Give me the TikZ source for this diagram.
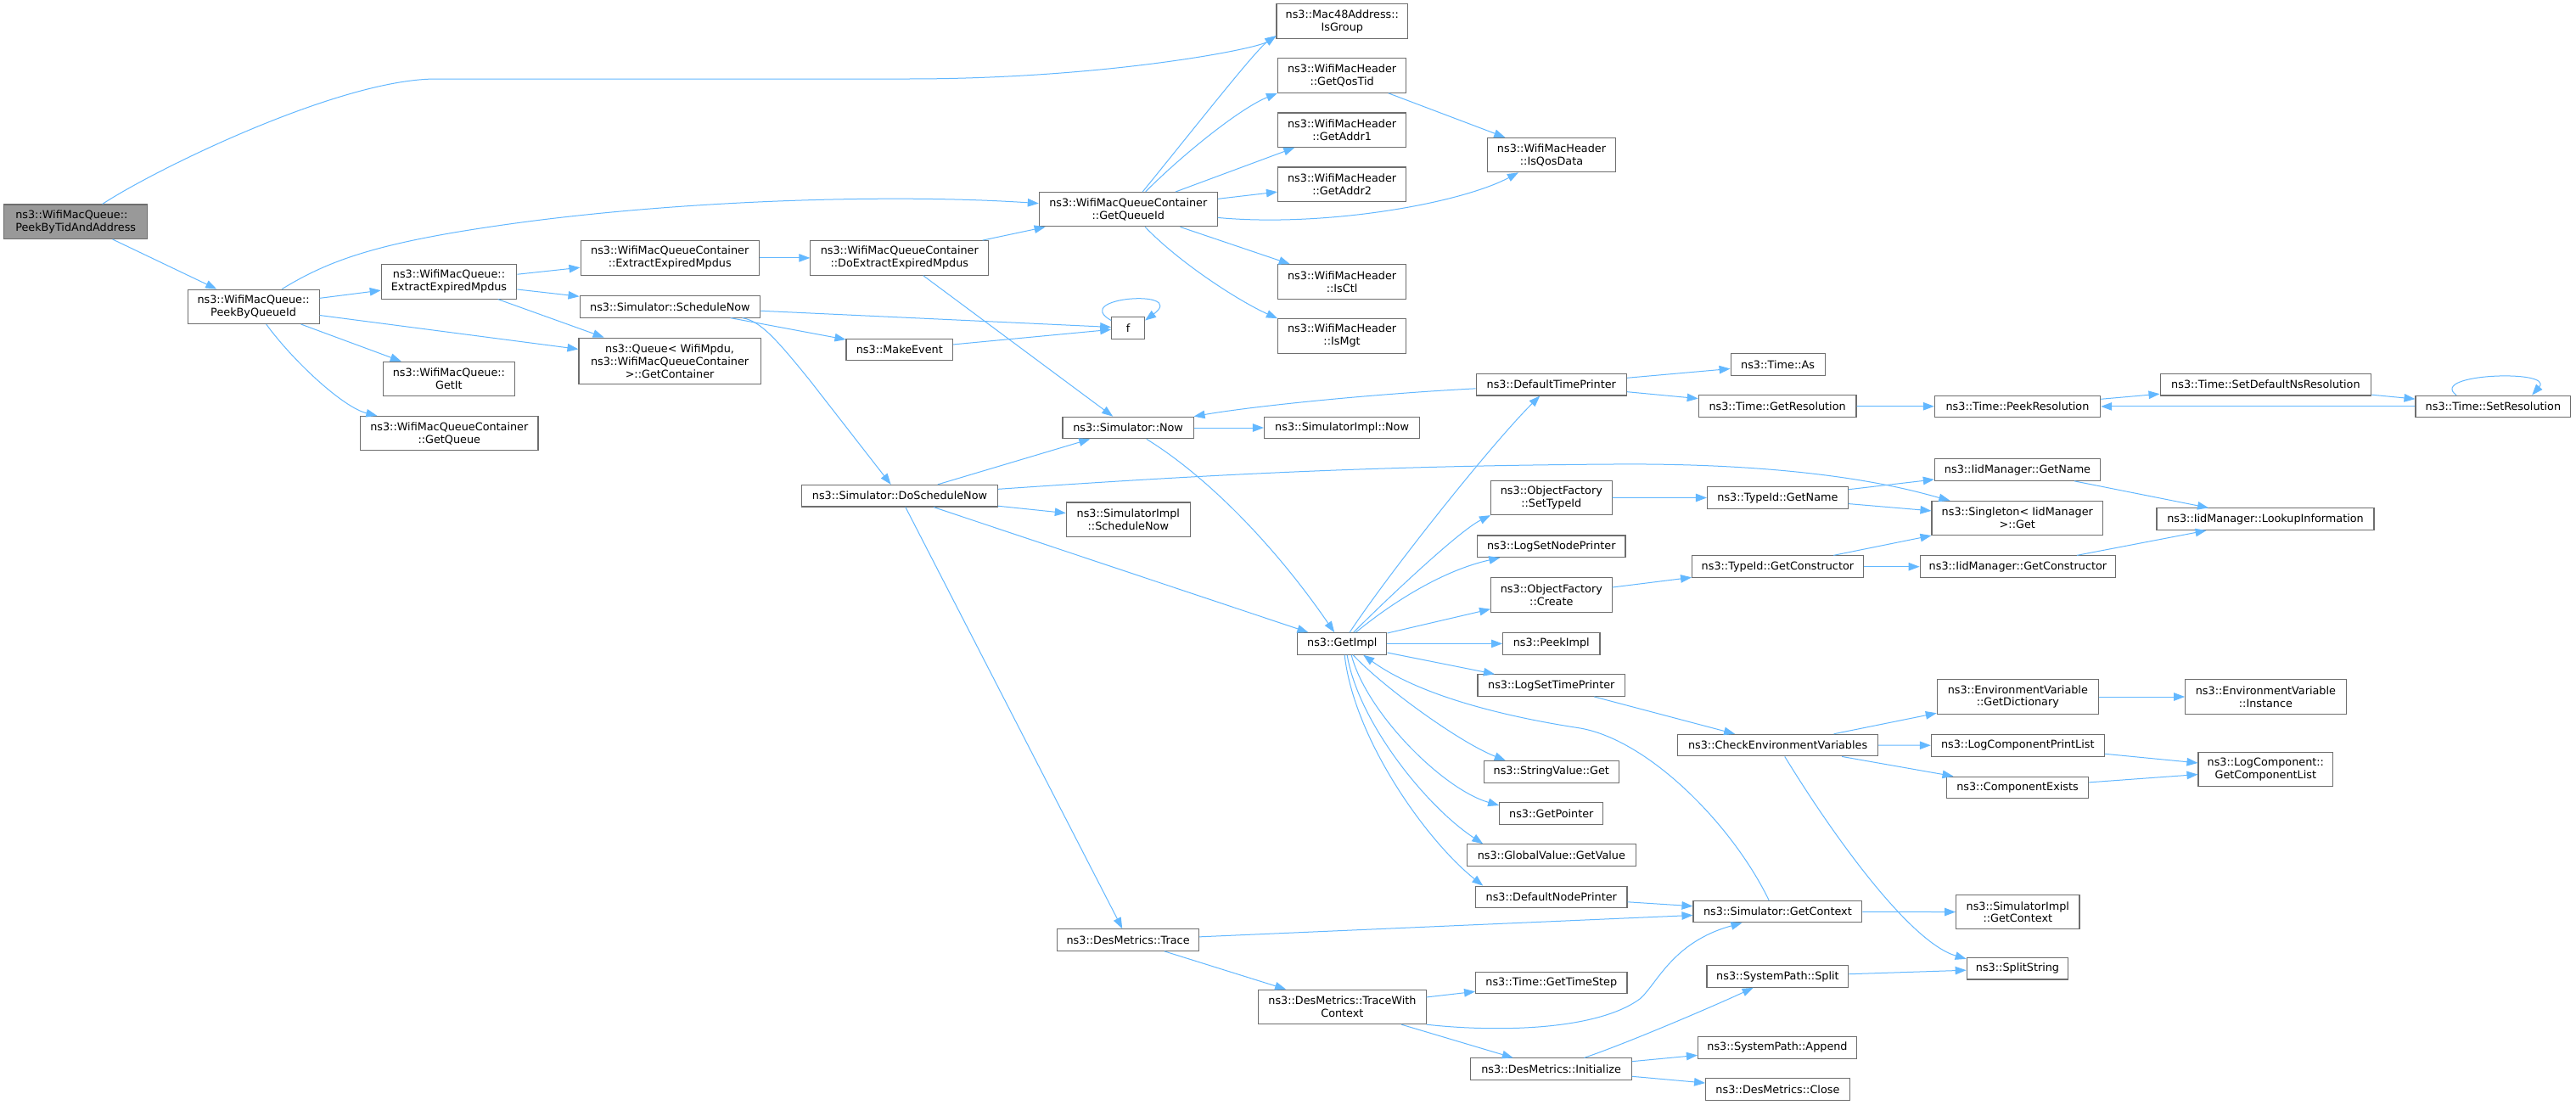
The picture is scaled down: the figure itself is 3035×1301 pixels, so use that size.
\documentclass[tikz,border=0pt]{standalone}
\usepackage{fontspec}
\setmainfont{DejaVu Sans}
\usetikzlibrary{arrows.meta,calc}
\definecolor{edgeblue}{HTML}{63B8FF}
\definecolor{nodeborder}{HTML}{6E6E6E}
\definecolor{rootfill}{HTML}{999999}
\newcommand\nodefont{\fontsize{12.8pt}{14.9pt}\selectfont}
\tikzset{
  nd/.style={draw=nodeborder, line width=1.1pt, rectangle, inner sep=0pt, align=center, font=\nodefont, text=black},
  ndone/.style={nd, minimum height=25.6pt},
  ndtwo/.style={nd, minimum height=40.4pt},
  ndthree/.style={nd, minimum height=54.7pt},
  edge/.style={draw=edgeblue, line width=1pt, -{Triangle[length=13pt,width=9.5pt]}},
}
\begin{document}
\begin{tikzpicture}[x=1pt,y=-1pt]
\useasboundingbox (0,0) rectangle (3035,1301);
\fill[white] (0,0) rectangle (3035,1301);
% nodes
\node[ndtwo, fill=rootfill, align=left, minimum width=168.7pt] (root) at (89.2,261.2) {ns3::WifiMacQueue::\\PeekByTidAndAddress};
\node[ndtwo, minimum width=155pt] (pbq) at (298.6,361.3) {ns3::WifiMacQueue::\\PeekByQueueId};
\node[ndtwo, minimum width=159.5pt] (wmqeem) at (529,331.9) {ns3::WifiMacQueue::\\ExtractExpiredMpdus};
\node[ndtwo, minimum width=155.1pt] (getit) at (528.9,446.5) {ns3::WifiMacQueue::\\GetIt};
\node[ndtwo, minimum width=209.4pt] (getqueue) at (529.3,510.6) {ns3::WifiMacQueueContainer\\::GetQueue};
\node[ndtwo, minimum width=210.3pt] (ceem) at (789.2,303.9) {ns3::WifiMacQueueContainer\\::ExtractExpiredMpdus};
\node[ndone, minimum width=212.7pt] (schednow) at (789.4,361.3) {ns3::Simulator::ScheduleNow};
\node[ndthree, minimum width=214.2pt] (getcont) at (789.1,425.4) {ns3::Queue< WifiMpdu,\\ns3::WifiMacQueueContainer\\>::GetContainer};
\node[ndtwo, minimum width=209.9pt] (doeem) at (1059.8,303.9) {ns3::WifiMacQueueContainer\\::DoExtractExpiredMpdus};
\node[ndtwo, minimum width=209.9pt] (getqid) at (1329.3,246.7) {ns3::WifiMacQueueContainer\\::GetQueueId};
\node[ndone, minimum width=38.8pt] (f) at (1329.1,386.4) {f};
\node[ndone, minimum width=125.6pt] (makeevent) at (1059.8,411.9) {ns3::MakeEvent};
\node[ndone, minimum width=154.2pt] (simnow) at (1329.1,504) {ns3::Simulator::Now};
\node[ndone, minimum width=183.2pt] (simimplnow) at (1581.1,504) {ns3::SimulatorImpl::Now};
\node[ndone, minimum width=230.7pt] (doschednow) at (1060,584.2) {ns3::Simulator::DoScheduleNow};
\node[ndtwo, minimum width=145.9pt] (simimplsched) at (1329.3,612.2) {ns3::SimulatorImpl\\::ScheduleNow};
\node[ndtwo, minimum width=154.6pt] (isgroup) at (1581.3,25.1) {ns3::Mac48Address::\\IsGroup};
\node[ndtwo, minimum width=151.2pt] (getqostid) at (1581.1,89.1) {ns3::WifiMacHeader\\::GetQosTid};
\node[ndtwo, minimum width=151.2pt] (getaddr1) at (1581.1,153.2) {ns3::WifiMacHeader\\::GetAddr1};
\node[ndtwo, minimum width=151.2pt] (getaddr2) at (1581.1,217.2) {ns3::WifiMacHeader\\::GetAddr2};
\node[ndtwo, minimum width=151.2pt] (isctl) at (1581.1,331.9) {ns3::WifiMacHeader\\::IsCtl};
\node[ndtwo, minimum width=151.2pt] (ismgt) at (1581.1,395.9) {ns3::WifiMacHeader\\::IsMgt};
\node[ndtwo, minimum width=150.7pt] (isqosdata) at (1828,182.6) {ns3::WifiMacHeader\\::IsQosData};
\node[ndone, minimum width=177.5pt] (dtp) at (1827.8,453.2) {ns3::DefaultTimePrinter};
\node[ndone, minimum width=111pt] (timeas) at (2094.6,429.5) {ns3::Time::As};
\node[ndone, minimum width=185.7pt] (getres) at (2094.1,478.5) {ns3::Time::GetResolution};
\node[ndone, minimum width=195.3pt] (peekres) at (2377,478.9) {ns3::Time::PeekResolution};
\node[ndone, minimum width=248.7pt] (setdefns) at (2669.4,453.2) {ns3::Time::SetDefaultNsResolution};
\node[ndone, minimum width=182.8pt] (setres) at (2937.4,478.9) {ns3::Time::SetResolution};
\node[ndtwo, minimum width=142.5pt] (settypeid) at (1827.8,586.4) {ns3::ObjectFactory\\::SetTypeId};
\node[ndone, minimum width=165.8pt] (tgetname) at (2094.4,586.5) {ns3::TypeId::GetName};
\node[ndone, minimum width=174.4pt] (lognodeprinter) at (1827.8,643.8) {ns3::LogSetNodePrinter};
\node[ndone, minimum width=195.3pt] (iidgetname) at (2377,553.5) {ns3::IidManager::GetName};
\node[ndtwo, minimum width=201.6pt] (singleton) at (2376.8,610.5) {ns3::Singleton< IidManager\\>::Get};
\node[ndone, minimum width=256pt] (lookup) at (2669,611.7) {ns3::IidManager::LookupInformation};
\node[ndone, minimum width=201.6pt] (tgetctor) at (2094.4,667.7) {ns3::TypeId::GetConstructor};
\node[ndone, minimum width=230.5pt] (iidgetctor) at (2377.4,667.7) {ns3::IidManager::GetConstructor};
\node[ndtwo, minimum width=142.5pt] (create) at (1827.8,701) {ns3::ObjectFactory\\::Create};
\node[ndone, minimum width=105.2pt] (getimpl) at (1581.3,758.4) {ns3::GetImpl};
\node[ndone, minimum width=114.4pt] (peekimpl) at (1827.8,758.4) {ns3::PeekImpl};
\node[ndone, minimum width=173.6pt] (logtimeprinter) at (1827.8,807.6) {ns3::LogSetTimePrinter};
\node[ndone, minimum width=236.1pt] (checkenv) at (2094.6,878.1) {ns3::CheckEnvironmentVariables};
\node[ndone, minimum width=159pt] (stringget) at (1827.8,909.3) {ns3::StringValue::Get};
\node[ndone, minimum width=122.2pt] (getpointer) at (1827.8,958.3) {ns3::GetPointer};
\node[ndone, minimum width=198.8pt] (gvgetvalue) at (1827.8,1007.6) {ns3::GlobalValue::GetValue};
\node[ndone, minimum width=178.4pt] (nodeprinter) at (1827.8,1057) {ns3::DefaultNodePrinter};
\node[ndone, minimum width=198.8pt] (simgetctx) at (2094.4,1074.1) {ns3::Simulator::GetContext};
\node[ndone, minimum width=178.4pt] (timestep) at (1827.8,1158) {ns3::Time::GetTimeStep};
\node[ndone, minimum width=166.8pt] (trace) at (1329.1,1107.5) {ns3::DesMetrics::Trace};
\node[ndtwo, minimum width=197.3pt] (tracectx) at (1581.4,1186.4) {ns3::DesMetrics::TraceWith\\Context};
\node[ndone, minimum width=166.8pt] (split) at (2094.4,1150.5) {ns3::SystemPath::Split};
\node[ndone, minimum width=187.1pt] (append) at (2094,1234.4) {ns3::SystemPath::Append};
\node[ndone, minimum width=189.5pt] (initialize) at (1827.6,1259.7) {ns3::DesMetrics::Initialize};
\node[ndone, minimum width=169.6pt] (close) at (2094.4,1283.7) {ns3::DesMetrics::Close};
\node[ndtwo, minimum width=190pt] (getdict) at (2377.3,821) {ns3::EnvironmentVariable\\::GetDictionary};
\node[ndtwo, minimum width=189.5pt] (instance) at (2669.4,821) {ns3::EnvironmentVariable\\::Instance};
\node[ndone, minimum width=204pt] (logprintlist) at (2377.3,878.3) {ns3::LogComponentPrintList};
\node[ndone, minimum width=167.3pt] (compexists) at (2377,928) {ns3::ComponentExists};
\node[ndtwo, minimum width=158.6pt] (getcomplist) at (2669.3,906.7) {ns3::LogComponent::\\GetComponentList};
\node[ndtwo, minimum width=145.4pt] (simimplgetctx) at (2377.3,1074.7) {ns3::SimulatorImpl\\::GetContext};
\node[ndone, minimum width=119.7pt] (splitstring) at (2377,1141.2) {ns3::SplitString};
% straight edges
\draw[edge] (root) -- (pbq);
\draw[edge] (pbq) -- (wmqeem);
\draw[edge] (pbq) -- (getcont);
\draw[edge] (pbq) -- (getit);
\draw[edge] (wmqeem) -- (ceem);
\draw[edge] (wmqeem) -- (schednow);
\draw[edge] (wmqeem) -- (getcont);
\draw[edge] (ceem) -- (doeem);
\draw[edge] (doeem) -- (getqid);
\draw[edge] (doeem) -- (simnow);
\draw[edge] (schednow) -- (f);
\draw[edge] (schednow) -- (makeevent);
\draw[edge] (makeevent) -- (f);
\draw[edge] (getqid) -- (getaddr1);
\draw[edge] (getqid) -- (getaddr2);
\draw[edge] (getqid) -- (isctl);
\draw[edge] (getqostid) -- (isqosdata);
\draw[edge] (simnow) -- (simimplnow);
\draw[edge] (doschednow) -- (simnow);
\draw[edge] (doschednow) -- (simimplsched);
\draw[edge] (doschednow) -- (getimpl);
\draw[edge] (doschednow) -- (trace);
\draw[edge] (dtp) -- (timeas);
\draw[edge] (dtp) -- (getres);
\draw[edge] (getres) -- (peekres);
\draw[edge] (peekres) -- (setdefns);
\draw[edge] (setdefns) -- (setres);
\draw[edge] (setres) -- (peekres);
\draw[edge] (settypeid) -- (tgetname);
\draw[edge] (tgetname) -- (iidgetname);
\draw[edge] (tgetname) -- (singleton);
\draw[edge] (iidgetname) -- (lookup);
\draw[edge] (create) -- (tgetctor);
\draw[edge] (tgetctor) -- (iidgetctor);
\draw[edge] (tgetctor) -- (singleton);
\draw[edge] (iidgetctor) -- (lookup);
\draw[edge] (getimpl) -- (create);
\draw[edge] (getimpl) -- (peekimpl);
\draw[edge] (getimpl) -- (logtimeprinter);
\draw[edge] (logtimeprinter) -- (checkenv);
\draw[edge] (checkenv) -- (getdict);
\draw[edge] (checkenv) -- (logprintlist);
\draw[edge] (checkenv) -- (compexists);
\draw[edge] (getdict) -- (instance);
\draw[edge] (logprintlist) -- (getcomplist);
\draw[edge] (compexists) -- (getcomplist);
\draw[edge] (nodeprinter) -- (simgetctx);
\draw[edge] (simgetctx) -- (simimplgetctx);
\draw[edge] (trace) -- (simgetctx);
\draw[edge] (trace) -- (tracectx);
\draw[edge] (tracectx) -- (timestep);
\draw[edge] (tracectx) -- (initialize);
\draw[edge] (initialize) -- (append);
\draw[edge] (initialize) -- (close);
\draw[edge] (split) -- (splitstring);
% curved edges
\draw[edge] (root) .. controls (182,200) and (400,93) .. (514,93) -- (1070,93) .. controls (1300,93) and (1480,58) .. ($(isgroup.south west)+(0,-3.7)$);
\draw[edge] (pbq) .. controls (390,305) and (450,285) .. (600,264) .. controls (800,236) and (1050,228) .. (getqid);
\draw[edge] (pbq) .. controls (345,425) and (404,480) .. (getqueue);
\draw[edge] (schednow) .. controls (896,378) and (915,400) .. (954,448) -- (doschednow);
\draw[edge] (getqid) .. controls (1400,160) and (1480,58) .. ($(isgroup.south west)+(0,-3.5)$);
\draw[edge] (getqid) .. controls (1390,185) and (1460,128) .. (getqostid.south west);
\draw[edge] (getqid) .. controls (1560,268) and (1720,240) .. (isqosdata);
\draw[edge] (getqid) .. controls (1390,310) and (1460,355) .. (ismgt.north west);
\draw[edge] (simnow) .. controls (1420,560) and (1500,640) .. (getimpl);
\draw[edge] (dtp) .. controls (1620,464) and (1480,478) .. (simnow);
\draw[edge] (doschednow) .. controls (1400,561) and (1600,549) .. (1900,547) .. controls (2150,545) and (2260,580) .. (singleton);
\draw[edge] (getimpl) .. controls (1640,670) and (1760,520) .. (dtp);
\draw[edge] (getimpl) .. controls (1640,700) and (1720,625) .. (settypeid.south west);
\draw[edge] (getimpl) .. controls (1640,710) and (1700,672) .. (lognodeprinter);
\draw[edge] ($(getimpl.south west)+(66,0)$) .. controls (1630,810) and (1720,875) .. ($(stringget.north west)+(26,0)$);
\draw[edge] ($(getimpl.south west)+(64,0)$) .. controls (1610,840) and (1700,930) .. ($(getpointer.north west)+(0,4)$);
\draw[edge] ($(getimpl.south west)+(59,0)$) .. controls (1600,850) and (1680,950) .. ($(gvgetvalue.north west)+(19.4,0)$);
\draw[edge] ($(getimpl.south west)+(56,0)$) .. controls (1595,870) and (1680,990) .. ($(nodeprinter.north west)+(9.2,0)$);
\draw[edge] ($(simgetctx.north west)+(89.7,0)$) .. controls (2040,970) and (1940,870) .. (1859.3,857.6) .. controls (1795,847.7) and (1680,825) .. ($(getimpl.south west)+(78,0)$);
\draw[edge] (tracectx.south east) .. controls (1760,1216) and (1880,1215) .. (1932,1177) .. controls (1952,1160) and (1970,1110) .. ($(simgetctx.south west)+(58,0)$);
\draw[edge] (initialize) .. controls (1920,1228) and (2020,1185) .. (split);
\draw[edge] (checkenv) .. controls (2160,985) and (2250,1110) .. ($(splitstring.north west)+(0,2)$);
\draw[edge] ($(f.north west)+(0,4.5)$) .. controls (1260,350) and (1400,340) .. ($(f.north east)+(0,4.5)$);
\draw[edge] ($(setres.north west)+(48.5,0)$) .. controls (2860,440) and (3010,435) .. ($(setres.north west)+(137.7,0)$);
\end{tikzpicture}
\end{document}
